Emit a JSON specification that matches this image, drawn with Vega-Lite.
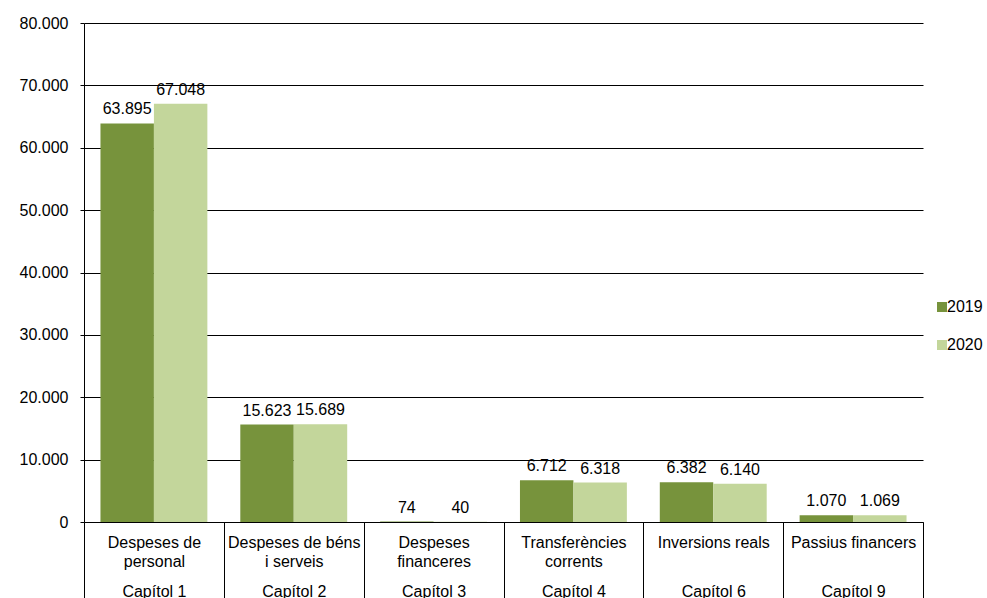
{
  "$schema": "https://vega.github.io/schema/vega-lite/v6.json",
  "width": 839,
  "height": 499,
  "autosize": "none",
  "padding": {"left": 84, "top": 23, "right": 64, "bottom": 76},
  "background": "white",
  "config": {
    "font": "Liberation Sans",
    "view": {"stroke": null},
    "locale": {"number": {"decimal": ",", "thousands": ".", "grouping": [3], "currency": ["", " €"]}}
  },
  "data": {
    "values": [
      {"cat": "Despeses de|\u200b|personal|\u200b|\u200b|Capítol 1", "year": "2019", "value": 63895},
      {"cat": "Despeses de|\u200b|personal|\u200b|\u200b|Capítol 1", "year": "2020", "value": 67048},
      {"cat": "Despeses de béns|\u200b|i serveis|\u200b|\u200b|Capítol 2", "year": "2019", "value": 15623},
      {"cat": "Despeses de béns|\u200b|i serveis|\u200b|\u200b|Capítol 2", "year": "2020", "value": 15689},
      {"cat": "Despeses|\u200b|financeres|\u200b|\u200b|Capítol 3", "year": "2019", "value": 74},
      {"cat": "Despeses|\u200b|financeres|\u200b|\u200b|Capítol 3", "year": "2020", "value": 40},
      {"cat": "Transferències|\u200b|corrents|\u200b|\u200b|Capítol 4", "year": "2019", "value": 6712},
      {"cat": "Transferències|\u200b|corrents|\u200b|\u200b|Capítol 4", "year": "2020", "value": 6318},
      {"cat": "Inversions reals|\u200b|\u200b|\u200b|\u200b|Capítol 6", "year": "2019", "value": 6382},
      {"cat": "Inversions reals|\u200b|\u200b|\u200b|\u200b|Capítol 6", "year": "2020", "value": 6140},
      {"cat": "Passius financers|\u200b|\u200b|\u200b|\u200b|Capítol 9", "year": "2019", "value": 1070},
      {"cat": "Passius financers|\u200b|\u200b|\u200b|\u200b|Capítol 9", "year": "2020", "value": 1069}
    ]
  },
  "encoding": {
    "x": {
      "field": "cat",
      "type": "nominal",
      "sort": null,
      "scale": {"paddingInner": 0, "paddingOuter": 0},
      "axis": {
        "title": null,
        "labelAngle": 0,
        "tickBand": "extent",
        "tickSize": 80,
        "tickColor": "black",
        "domainColor": "black",
        "labelPadding": -68,
        "labelFontSize": 16,
        "labelColor": "black",
        "labelLineHeight": 9.8,
        "labelLimit": 0,
        "labelOverlap": false,
        "labelExpr": "split(datum.label, '|')"
      }
    },
    "xOffset": {
      "field": "year",
      "type": "nominal",
      "scale": {"paddingInner": 0, "paddingOuter": 0.308}
    },
    "y": {
      "field": "value",
      "type": "quantitative",
      "scale": {"domain": [0, 80000]},
      "axis": {
        "title": null,
        "values": [0, 10000, 20000, 30000, 40000, 50000, 60000, 70000, 80000],
        "labelExpr": "format(datum.value, ',')",
        "grid": true,
        "gridColor": "black",
        "gridOpacity": 1,
        "domainColor": "black",
        "tickColor": "black",
        "tickSize": 4,
        "labelPadding": 12,
        "labelFontSize": 16,
        "labelColor": "black"
      }
    }
  },
  "layer": [
    {
      "mark": {"type": "bar"},
      "encoding": {
        "color": {
          "field": "year",
          "type": "nominal",
          "scale": {"domain": ["2019", "2020"], "range": ["#77933C", "#C3D69B"]},
          "legend": {
            "title": null,
            "orient": "none",
            "legendX": 850,
            "legendY": 276,
            "symbolType": "square",
            "symbolSize": 100,
            "symbolStrokeWidth": 0,
            "labelFontSize": 16,
            "labelColor": "black",
            "labelOffset": -3,
            "rowPadding": 22
          }
        }
      }
    },
    {
      "mark": {"type": "text", "baseline": "alphabetic", "dy": -9, "fontSize": 16, "color": "black"},
      "encoding": {
        "text": {"field": "value", "type": "quantitative", "format": ","}
      }
    }
  ]
}
